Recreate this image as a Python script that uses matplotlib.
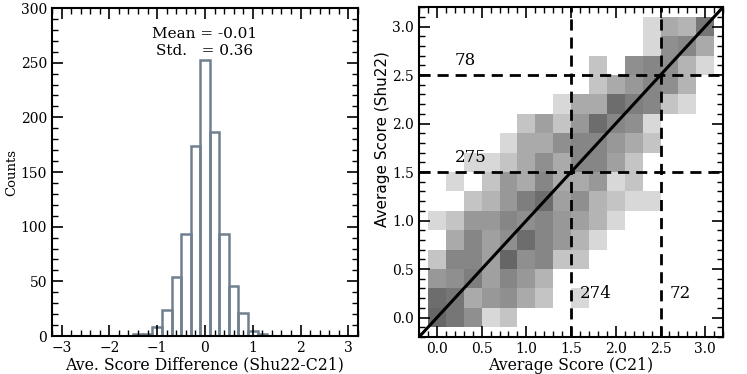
import numpy as np
import matplotlib
matplotlib.use("Agg")
import matplotlib.pyplot as plt
from matplotlib.ticker import MultipleLocator

plt.rcParams['font.family'] = 'DejaVu Serif'

# left panel: histogram of score differences (Shu22 - C21)
diff_centers = [-1.4, -1.2, -1.0, -0.8, -0.6, -0.4, -0.2, 0.0, 0.2, 0.4, 0.6, 0.8, 1.0, 1.2]
diff_counts = [2, 2, 8, 24, 54, 93, 174, 252, 187, 93, 46, 21, 5, 2]
mean_diff = -0.01
std_diff = 0.36

# right panel: 2D histogram, rows = Shu22 score, cols = C21 score
score_centers = [0.0, 0.2, 0.4, 0.6, 0.8, 1.0, 1.2, 1.4, 1.6, 1.8, 2.0, 2.2, 2.4, 2.6, 2.8, 3.0]
grid_counts = [
    [15, 13, 10, 1, 4, 0, 0, 0, 0, 0, 0, 0, 0, 0, 0, 0],     # y = 0.0
    [14, 13, 7, 9, 10, 7, 4, 0, 1, 0, 0, 0, 0, 0, 0, 0],     # y = 0.2
    [9, 10, 12, 8, 11, 9, 6, 0, 0, 0, 0, 0, 0, 0, 0, 0],     # y = 0.4
    [4, 11, 11, 8, 15, 10, 11, 4, 4, 0, 0, 0, 0, 0, 0, 0],   # y = 0.6
    [0, 7, 11, 8, 10, 14, 11, 9, 6, 1, 0, 0, 0, 0, 0, 0],    # y = 0.8
    [1, 4, 9, 9, 11, 10, 11, 9, 8, 6, 1, 0, 0, 0, 0, 0],     # y = 1.0
    [0, 0, 4, 6, 9, 12, 14, 8, 10, 6, 4, 1, 1, 0, 0, 0],     # y = 1.2
    [0, 1, 0, 4, 9, 7, 11, 7, 7, 9, 1, 4, 0, 0, 0, 0],       # y = 1.4
    [0, 0, 1, 1, 4, 7, 10, 7, 11, 11, 8, 4, 0, 0, 0, 0],     # y = 1.6
    [0, 0, 0, 0, 1, 7, 7, 10, 11, 11, 9, 7, 4, 0, 0, 0],     # y = 1.8
    [0, 0, 0, 0, 0, 4, 8, 4, 9, 14, 11, 10, 1, 0, 0, 0],     # y = 2.0
    [0, 0, 0, 0, 0, 0, 0, 1, 7, 7, 14, 12, 11, 4, 1, 0],     # y = 2.2
    [0, 0, 0, 0, 0, 0, 0, 0, 0, 4, 7, 9, 11, 10, 6, 0],      # y = 2.4
    [0, 0, 0, 0, 0, 0, 0, 0, 0, 4, 0, 10, 11, 10, 6, 1],     # y = 2.6
    [0, 0, 0, 0, 0, 0, 0, 0, 0, 0, 0, 0, 1, 10, 11, 7],      # y = 2.8
    [0, 0, 0, 0, 0, 0, 0, 0, 0, 0, 0, 0, 1, 7, 6, 13],       # y = 3.0
]
region_labels = ["78", "275", "274", "72"]
region_pos = [(0.2, 2.6), (0.2, 1.6), (1.6, 0.2), (2.6, 0.2)]
cuts = [1.5, 2.5]

fig = plt.figure(figsize=(7.47, 3.74), dpi=100)
ax1 = fig.add_axes([0.0696, 0.1016, 0.4096, 0.8770])
ax2 = fig.add_axes([0.561, 0.099, 0.407, 0.882])

ax1.bar(diff_centers, diff_counts, width=0.2, fill=False,
        edgecolor='slategray', linewidth=1.8)
ax1.text(0.0, 283, f"Mean = {mean_diff:.2f}\nStd.   = {std_diff:.2f}",
         ha='center', va='top', fontsize=11, linespacing=1.3)
ax1.set_xlim(-3.2, 3.2)
ax1.set_ylim(0, 300)
ax1.xaxis.set_major_locator(MultipleLocator(1))
ax1.xaxis.set_minor_locator(MultipleLocator(0.2))
ax1.yaxis.set_major_locator(MultipleLocator(50))
ax1.yaxis.set_minor_locator(MultipleLocator(10))
ax1.set_xlabel("Ave. Score Difference (Shu22-C21)", fontsize=11.3, labelpad=1)
ax1.set_ylabel("Counts", fontsize=9.5, labelpad=2)

c = np.array(score_centers)
edges = np.append(c - 0.1, c[-1] + 0.1)
counts = np.ma.masked_equal(np.array(grid_counts, dtype=float), 0)
ax2.pcolormesh(edges, edges, counts, cmap='Greys', vmin=-7.5, vmax=25.8)
for v in cuts:
    ax2.axvline(v, color='k', ls=(0, (4, 2.5)), lw=2)
    ax2.axhline(v, color='k', ls=(0, (4, 2.5)), lw=2)
ax2.plot([-0.2, 3.2], [-0.2, 3.2], color='k', lw=2.2)
for lab, (x, y) in zip(region_labels, region_pos):
    ax2.text(x, y, lab, fontsize=12, ha='left', va='baseline')
ax2.set_xlim(-0.2, 3.2)
ax2.set_ylim(-0.2, 3.2)
for a in (ax2.xaxis, ax2.yaxis):
    a.set_major_locator(MultipleLocator(0.5))
    a.set_minor_locator(MultipleLocator(0.1))
ax2.set_xlabel("Average Score (C21)", fontsize=11.3, labelpad=1)
ax2.set_ylabel("Average Score (Shu22)", fontsize=11, family='DejaVu Sans')
ax2.yaxis.set_label_coords(-0.095, 0.60)

for ax in (ax1, ax2):
    ax.tick_params(which='both', direction='in', top=True, right=True, labelsize=10)
    ax.tick_params(which='major', length=8, width=1.2)
    ax.tick_params(which='minor', length=4, width=1.0)
    for s in ax.spines.values():
        s.set_linewidth(1.5)

fig.savefig("out.png", dpi=100)
